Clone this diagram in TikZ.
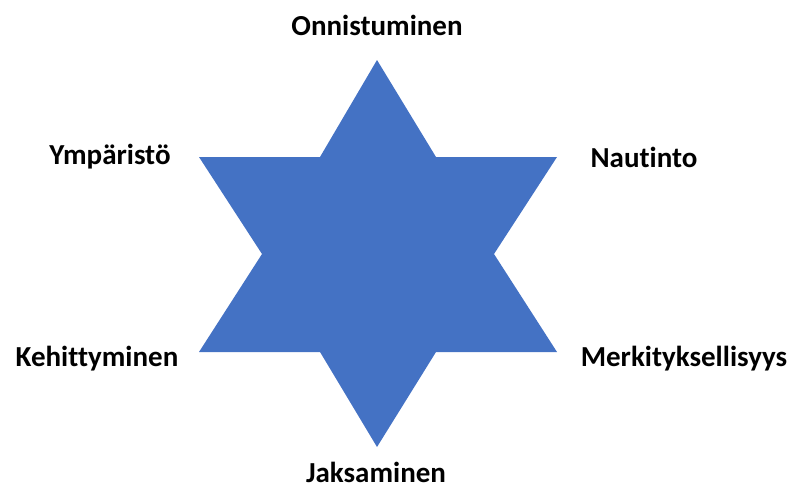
\documentclass[tikz,border=0pt]{standalone}
\usepackage{fontspec}
\setmainfont{Carlito}[Ligatures={NoCommon,NoContextual}]
\definecolor{tahtisini}{HTML}{4472C4}

\begin{document}
\begin{tikzpicture}[x=1pt,y=-1pt,
  arvo/.style={font=\bfseries\fontsize{29}{32}\selectfont,inner sep=0pt}]
\useasboundingbox (0,0) rectangle (791,490);
% tähti
\fill[tahtisini] (377,60) -- (436,157) -- (557,157) -- (494,254) -- (557,352)
  -- (436,352) -- (377,447) -- (320,352) -- (199,352) -- (262,254)
  -- (199,157) -- (320,157) -- cycle;
% sanat
\node[arvo] (onni) at (377,25) {Onnistuminen};
\node[arvo] (ymp) at (110,157) {Ympäristö};
\node[arvo] (naut) at (644,157) {Nautinto};
\node[arvo] (kehi) at (97,359) {Kehittyminen};
\node[arvo] (merk) at (684,359) {Merkityksellisyys};
\node[arvo] (jaks) at (376,472) {Jaksaminen};
\end{tikzpicture}
\end{document}
